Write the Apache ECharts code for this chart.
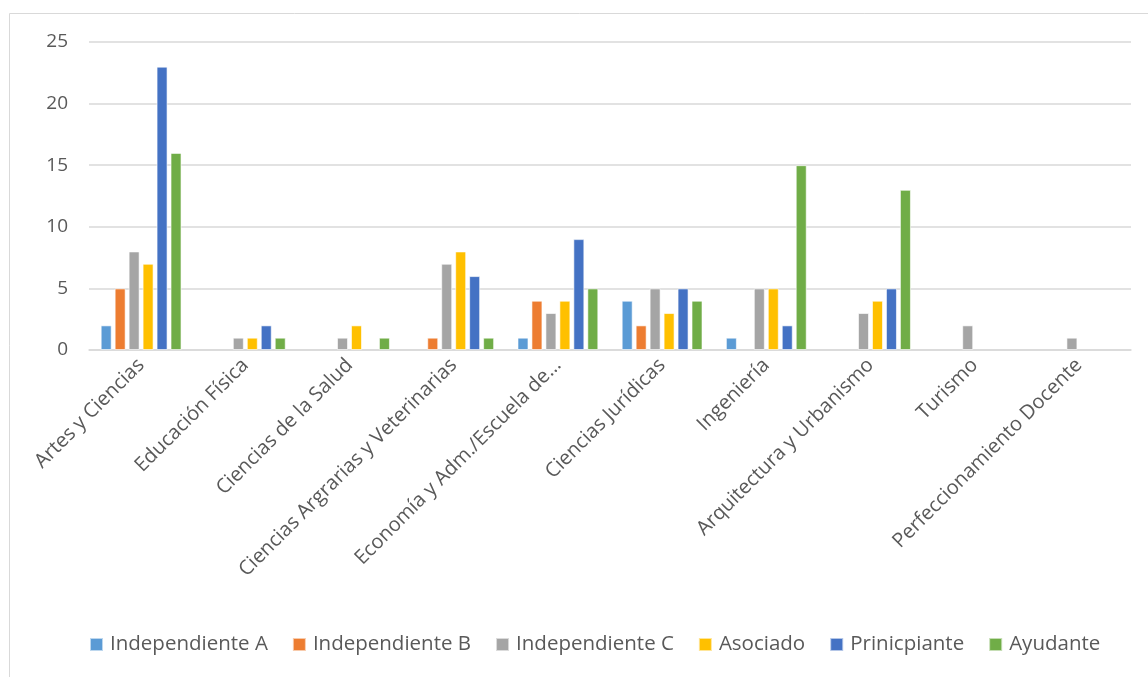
<!DOCTYPE html>
<html><head><meta charset="utf-8">
<script src="https://cdn.jsdelivr.net/npm/echarts@6/dist/echarts.min.js"></script>
<style>html,body{margin:0;padding:0;background:#fff}#c{width:1148px;height:677px}</style>
</head><body><div id="c"></div>
<script>
const categories = ["Artes y Ciencias","Educación Física","Ciencias de la Salud","Ciencias Argrarias y Veterinarias","Economía y Adm./Escuela de…","Ciencias Jurídicas","Ingeniería","Arquitectura y Urbanismo","Turismo","Perfeccionamiento Docente"];
const seriesNames = ["Independiente A","Independiente B","Independiente C","Asociado","Prinicpiante","Ayudante"];
const independienteA = [2,0,0,0,1,4,1,0,0,0];
const independienteB = [5,0,0,1,4,2,0,0,0,0];
const independienteC = [8,1,1,7,3,5,5,3,2,1];
const asociado = [7,1,2,8,4,3,5,4,0,0];
const principiante = [23,2,0,6,9,5,2,5,0,0];
const ayudante = [16,1,1,1,5,4,15,13,0,0];
const yTicks = [0,5,10,15,20,25];
const colors = ["#5B9BD5","#ED7D31","#A5A5A5","#FFC000","#4472C4","#70AD47"];
const values = [independienteA,independienteB,independienteC,asociado,principiante,ayudante];
const font = "'Open Sans', sans-serif";
const chart = echarts.init(document.getElementById('c'));
chart.setOption({
  animation:false,
  color: colors,
  graphic:[{type:'rect',shape:{x:9.5,y:13.5,width:1300,height:800},style:{fill:'none',stroke:'#d9d9d9',lineWidth:1},silent:true}],
  grid:{left:89,right:17,top:42,bottom:327,containLabel:false},
  legend:{bottom:17,left:84,itemWidth:13,itemHeight:13,itemGap:24,icon:'rect',
    textStyle:{fontFamily:font,fontSize:20.5,color:'#595959',padding:[0,0,0,2]},data:seriesNames},
  xAxis:{type:'category',data:categories,
    axisLine:{lineStyle:{color:'#d9d9d9',width:1.5}},axisTick:{show:false},
    axisLabel:{interval:0,rotate:45,fontFamily:font,fontSize:20,color:'#595959',margin:12}},
  yAxis:{type:'value',min:0,max:25,interval:5,
    axisLine:{show:false},axisTick:{show:false},
    splitLine:{lineStyle:{color:'#d9d9d9',width:1.5}},
    axisLabel:{fontFamily:font,fontSize:19,color:'#595959',margin:21,
      formatter:v=>yTicks.includes(v)?String(v):''}},
  series: seriesNames.map((n,i)=>({name:n,type:'bar',data:values[i].map(v=>v===0?null:v),
    barWidth:11,barGap:'27%',itemStyle:{borderColor:'rgba(255,255,255,0.6)',borderWidth:1}}))
});
</script></body></html>
